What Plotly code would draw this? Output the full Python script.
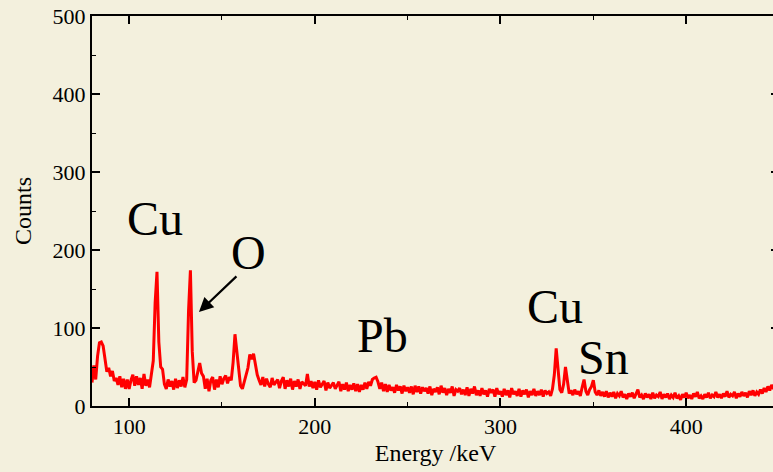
import plotly.graph_objects as go

# Energy axis in keV, one channel per keV
energy_start = 80
counts = [
    # 80-89
    30, 52, 34, 64, 81, 82, 77, 58, 44, 49,
    # 90-99
    38, 45, 32, 36, 27, 38, 24, 35, 22, 34,
    # 100-109
    22, 33, 40, 26, 38, 27, 36, 22, 41, 26,
    # 110-119
    34, 24, 42, 58, 132, 172, 82, 50, 47, 28,
    # 120-129
    22, 34, 25, 32, 21, 35, 23, 33, 25, 37,
    # 130-139
    24, 34, 122, 174, 70, 30, 33, 43, 55, 42,
    # 140-149
    38, 22, 35, 19, 33, 37, 21, 34, 24, 38,
    # 150-159
    28, 35, 39, 29, 37, 33, 56, 92, 70, 40,
    # 160-169
    26, 22, 31, 42, 49, 66, 60, 67, 55, 40,
    # 170-179
    33, 27, 37, 25, 35, 28, 24, 36, 27, 31,
    # 180-189
    34, 23, 32, 37, 22, 33, 25, 35, 21, 32,
    # 190-199
    25, 34, 22, 31, 28, 26, 41, 25, 32, 23,
    # 200-209
    31, 21, 33, 24, 28, 32, 20, 30, 23, 27,
    # 210-219
    30, 22, 26, 31, 19, 28, 21, 30, 19, 27,
    # 220-229
    21, 29, 19, 28, 18, 27, 21, 30, 22, 31,
    # 230-239
    26, 34, 36, 37, 31, 22, 30, 19, 28, 18,
    # 240-249
    27, 20, 24, 17, 27, 20, 25, 16, 26, 19,
    # 250-259
    24, 17, 25, 15, 26, 18, 25, 16, 24, 19,
    # 260-269
    23, 16, 25, 14, 22, 18, 24, 15, 26, 17,
    # 270-279
    23, 14, 22, 17, 25, 13, 21, 19, 23, 15,
    # 280-289
    21, 14, 24, 13, 22, 16, 25, 14, 20, 13,
    # 290-299
    23, 15, 20, 12, 22, 17, 21, 12, 23, 15,
    # 300-309
    19, 12, 22, 14, 20, 11, 23, 15, 19, 13,
    # 310-319
    22, 12, 20, 15, 21, 11, 19, 14, 22, 13,
    # 320-329
    19, 14, 21, 12, 20, 16, 18, 13, 22, 40,
    # 330-339
    74, 45, 21, 17, 28, 50, 34, 16, 20, 14,
    # 340-349
    21, 15, 19, 13, 24, 34, 19, 14, 21, 25,
    # 350-359
    33, 18, 14, 20, 13, 18, 12, 19, 11, 17,
    # 360-369
    12, 18, 10, 16, 13, 19, 11, 15, 9, 16,
    # 370-379
    12, 17, 10, 15, 21, 11, 14, 9, 16, 11,
    # 380-389
    15, 9, 17, 10, 14, 12, 18, 9, 15, 11,
    # 390-399
    16, 9, 14, 11, 17, 10, 13, 8, 15, 11,
    # 400-409
    17, 10, 14, 9, 16, 12, 18, 10, 13, 9,
    # 410-419
    15, 11, 17, 10, 14, 12, 18, 11, 15, 10,
    # 420-429
    16, 12, 19, 11, 15, 13, 18, 10, 16, 12,
    # 430-439
    18, 13, 17, 11, 19, 14, 20, 13, 18, 15,
    # 440-450
    21, 16, 23, 18, 25, 20, 27, 22, 29, 24, 28,
]
energy = [energy_start + i for i in range(len(counts))]

# Element labels: (text, energy keV, counts)
peak_labels = ["Cu", "O", "Pb", "Cu", "Sn"]
label_x = [113.9, 164.5, 236.7, 329.3, 355.7]
label_y = [241, 197, 90, 127, 62]

# Arrow pointing at the O peak
arrow_head = (137.6, 120.5)
arrow_tail = (158.6, 168)

bg = "#F3F0DD"
serif = "Liberation Serif"

fig = go.Figure()
fig.add_trace(go.Scatter(
    x=energy, y=counts, mode="lines",
    line=dict(color="#FF0000", width=3),
    hoverinfo="skip", showlegend=False,
))

for t, x, y in zip(peak_labels, label_x, label_y):
    fig.add_annotation(x=x, y=y, text=t, showarrow=False,
                       font=dict(family=serif, size=48, color="black"),
                       xanchor="center", yanchor="middle")

fig.add_annotation(x=arrow_head[0], y=arrow_head[1],
                   ax=arrow_tail[0], ay=arrow_tail[1],
                   axref="x", ayref="y", text="", showarrow=True,
                   arrowhead=2, arrowsize=1.3, arrowwidth=2.2,
                   arrowcolor="black")

axis_common = dict(
    showline=True, linecolor="black", linewidth=2, mirror="ticks",
    ticks="inside", ticklen=8, tickwidth=1.5, tickcolor="black",
    showgrid=False, zeroline=False, automargin=False,
    tickfont=dict(family=serif, size=22, color="black"),
    minor=dict(ticks="inside", ticklen=4, tickwidth=1.2, tickcolor="black", dtick=50),
)

fig.update_xaxes(range=[80, 450], dtick=100, tick0=0,
                 title=dict(text="Energy /keV", font=dict(family=serif, size=24, color="black"),
                            standoff=6),
                 **axis_common)
fig.update_yaxes(range=[0, 500], dtick=100, tick0=0,
                 title=dict(text="Counts", font=dict(family=serif, size=24, color="black"),
                            standoff=14),
                 **axis_common)

fig.update_layout(
    width=790, height=472,
    margin=dict(l=92, r=11, t=16, b=66, autoexpand=False),
    paper_bgcolor=bg, plot_bgcolor=bg,
    showlegend=False,
)

fig.write_html(
    "out.html",
    config={"displayModeBar": False},
    post_script="document.documentElement.style.overflow='hidden';"
                "document.body.style.overflow='hidden';"
                "document.body.style.margin='0';"
                "document.documentElement.style.background='" + bg + "';",
)
